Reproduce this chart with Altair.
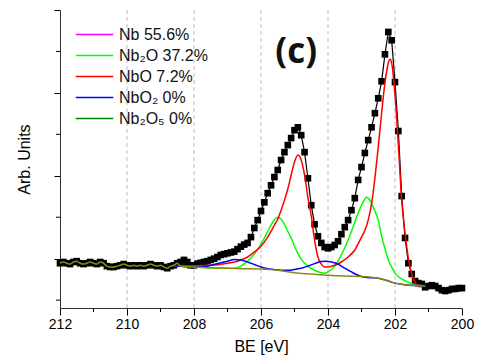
import altair as alt
import pandas as pd

# ---------------- data ----------------
be_grid = [
    212.0, 211.9, 211.8, 211.7, 211.6, 211.5, 211.4, 211.3, 211.2, 211.1,
    211.0, 210.9, 210.8, 210.7, 210.6, 210.5, 210.4, 210.3, 210.2, 210.1,
    210.0, 209.9, 209.8, 209.7, 209.6, 209.5, 209.4, 209.3, 209.2, 209.1,
    209.0, 208.9, 208.8, 208.7, 208.6, 208.5, 208.4, 208.3, 208.2, 208.1,
    208.0, 207.9, 207.8, 207.7, 207.6, 207.5, 207.4, 207.3, 207.2, 207.1,
    207.0, 206.9, 206.8, 206.7, 206.6, 206.5, 206.4, 206.3, 206.2, 206.1,
    206.0, 205.9, 205.8, 205.7, 205.6, 205.5, 205.4, 205.3, 205.2, 205.1,
    205.0, 204.9, 204.8, 204.7, 204.6, 204.5, 204.4, 204.3, 204.2, 204.1,
    204.0, 203.9, 203.8, 203.7, 203.6, 203.5, 203.4, 203.3, 203.2, 203.1,
    203.0, 202.9, 202.8, 202.7, 202.6, 202.5, 202.4, 202.3, 202.2, 202.1,
    202.0, 201.9, 201.8, 201.7, 201.6, 201.5, 201.4, 201.3, 201.2, 201.1,
    201.0, 200.9, 200.8, 200.7, 200.6, 200.5, 200.4, 200.3, 200.2, 200.1,
    200.0,
]
intensity = [
    0.89, 0.92, 0.89, 0.87, 0.92, 0.94, 0.89, 0.87, 0.89, 0.92,
    0.89, 0.87, 0.92, 0.89, 0.82, 0.80, 0.80, 0.82, 0.84, 0.87,
    0.84, 0.82, 0.84, 0.82, 0.84, 0.82, 0.84, 0.87, 0.84, 0.82,
    0.84, 0.80, 0.77, 0.82, 0.84, 0.89, 0.92, 0.97, 0.92, 0.84,
    0.84, 0.88, 0.90, 0.92, 0.94, 0.97, 1.00, 1.04, 1.09, 1.11,
    1.13, 1.15, 1.17, 1.23, 1.29, 1.34, 1.38, 1.52, 1.74, 1.93,
    2.15, 2.36, 2.58, 2.77, 2.97, 3.14, 3.38, 3.57, 3.74, 3.91,
    4.10, 4.17, 3.98, 3.57, 2.94, 2.29, 1.83, 1.54, 1.38, 1.28,
    1.25, 1.28, 1.33, 1.42, 1.59, 1.76, 1.93, 2.17, 2.46, 2.90,
    3.21, 3.55, 3.86, 4.17, 4.51, 4.87, 5.28, 5.93, 6.47, 6.27,
    5.26, 4.08, 2.51, 1.50, 0.89, 0.63, 0.46, 0.41, 0.39, 0.31,
    0.34, 0.36, 0.34, 0.29, 0.24, 0.22, 0.24, 0.27, 0.27, 0.29,
    0.29,
]

red_be = [208.6, 208.5, 208.0, 207.5, 207.0, 206.8, 206.6, 206.4, 206.2, 206.0,
          205.8, 205.6, 205.5, 205.4, 205.3, 205.2, 205.1, 205.0, 204.9, 204.8,
          204.7, 204.6, 204.5, 204.4, 204.3, 204.2, 204.1, 204.0, 203.8, 203.6,
          203.4, 203.2, 203.0, 202.9, 202.8, 202.7, 202.6, 202.5, 202.4, 202.3,
          202.2, 202.15, 202.1, 202.0, 201.9, 201.8, 201.7, 201.6, 201.5, 201.4,
          201.3, 201.2, 201.1]
red_v = [0.83, 0.83, 0.83, 0.84, 0.89, 0.92, 0.97, 1.04, 1.16, 1.30,
         1.52, 1.81, 1.95, 2.17, 2.41, 2.68, 3.02, 3.33, 3.50, 3.38,
         3.02, 2.48, 2.03, 1.45, 1.04, 0.87, 0.80, 0.80, 0.84, 0.92,
         1.04, 1.21, 1.52, 1.68, 1.93, 2.32, 2.94, 3.69, 4.51, 5.24,
         5.72, 5.81, 5.72, 4.95, 3.74, 2.41, 1.62, 1.01, 0.63, 0.43,
         0.36, 0.35, 0.34]

green_be = [208.6, 208.0, 207.5, 207.0, 206.8, 206.6, 206.4, 206.2, 206.0, 205.9,
            205.8, 205.7, 205.6, 205.5, 205.4, 205.3, 205.2, 205.1, 205.0, 204.9,
            204.8, 204.6, 204.4, 204.2, 204.1, 204.0, 203.8, 203.6, 203.4, 203.3,
            203.2, 203.1, 203.0, 202.9, 202.85, 202.8, 202.7, 202.6, 202.5, 202.4,
            202.3, 202.2, 202.1, 202.0, 201.8, 201.6, 201.4, 201.2, 201.1]
green_v = [0.83, 0.80, 0.78, 0.77, 0.77, 0.82, 0.94, 1.11, 1.35, 1.50,
           1.66, 1.81, 1.94, 2.00, 1.95, 1.83, 1.66, 1.50, 1.30, 1.13,
           0.99, 0.82, 0.72, 0.66, 0.65, 0.68, 0.82, 1.09, 1.45, 1.66,
           1.88, 2.10, 2.29, 2.44, 2.48, 2.46, 2.34, 2.15, 1.93, 1.54,
           1.25, 0.97, 0.80, 0.65, 0.51, 0.43, 0.37, 0.35, 0.34]

blue_be = [208.6, 208.0, 207.6, 207.4, 207.2, 207.0, 206.8, 206.6, 206.4, 206.2,
           206.0, 205.8, 205.6, 205.4, 205.2, 205.0, 204.8, 204.6, 204.4, 204.2,
           204.05, 203.9, 203.7, 203.5, 203.3, 203.1, 202.9, 202.7, 202.5, 202.2,
           202.0, 201.7, 201.4, 201.1]
blue_v = [0.83, 0.80, 0.82, 0.86, 0.90, 0.94, 0.98, 0.97, 0.92, 0.86,
          0.80, 0.76, 0.74, 0.72, 0.72, 0.74, 0.77, 0.82, 0.88, 0.93,
          0.94, 0.92, 0.87, 0.77, 0.68, 0.60, 0.55, 0.54, 0.53, 0.46,
          0.41, 0.37, 0.35, 0.34]

bg_be = [208.4, 208.0, 207.5, 207.0, 206.5, 206.0, 205.5, 205.0, 204.5, 204.0,
         203.5, 203.0, 202.5, 202.2, 202.0, 201.7, 201.4, 201.1]
bg_v = [0.82, 0.80, 0.78, 0.77, 0.76, 0.75, 0.72, 0.66, 0.63, 0.60,
        0.58, 0.57, 0.53, 0.46, 0.41, 0.37, 0.35, 0.34]

labels = ["Nb 55.6%", "Nb\u2082O 37.2%", "NbO 7.2%", "NbO\u2082 0%", "Nb\u2082O\u2085 0%"]
colors = ["#ff00ff", "#00ff00", "#ff0000", "#0000ff", "#008000"]

major_x = [212, 210, 208, 206, 204, 202, 200]
minor_x = [211, 209, 207, 205, 203, 201]
grid_x = [210, 208, 206, 204, 202]
major_y = [1, 3, 5, 7]
minor_y = [0, 2, 4, 6]
annot = pd.DataFrame({"be": [204.95], "v": [5.98], "t": ["(c)"]})

# ---------------- frames ----------------
df_data = pd.DataFrame({"be": be_grid, "v": intensity})
rows = []
for name, bes, vs in [(labels[1], green_be, green_v),
                      (labels[2], red_be, red_v),
                      (labels[3], blue_be, blue_v)]:
    for b, v in zip(bes, vs):
        rows.append({"be": b, "v": v, "comp": name})
df_comp = pd.DataFrame(rows)
bg_pairs = [(b, v) for b, v in zip(be_grid, intensity) if b >= 208.45] + list(zip(bg_be, bg_v))
df_bg = pd.DataFrame(bg_pairs, columns=["be", "v"])

W, H = 402, 298
FONT = "Liberation Sans"
xs = alt.Scale(domain=[200, 212], reverse=True, nice=False, zero=False)
ys = alt.Scale(domain=[-0.19, 7.0], nice=False, zero=False)

x_axis = alt.Axis(values=major_x, title="BE [eV]", grid=False, tickSize=7,
                  tickColor="black", domainColor="#333333", labelFontSize=14,
                  labelFont=FONT, labelColor="black", titleFont=FONT,
                  titleFontSize=16, titleFontWeight="normal", titleColor="black",
                  labelPadding=2, titlePadding=7, format="d", labelFlush=False)
y_axis = alt.Axis(values=major_y, title="Arb. Units", labels=False, grid=False,
                  tickSize=6, tickColor="black", domainColor="#333333",
                  titleFont=FONT, titleFontSize=16, titleFontWeight="normal",
                  titleColor="black", titlePadding=21)

grid = alt.Chart(pd.DataFrame({"be": grid_x})).mark_rule(
    color="#bdbdbd", strokeDash=[4, 3], strokeWidth=1
).encode(x=alt.X("be:Q", scale=xs, axis=x_axis), y=alt.value(0), y2=alt.value(H))

data_line = alt.Chart(df_data).mark_line(color="black", strokeWidth=1.2).encode(
    x=alt.X("be:Q", scale=xs), y=alt.Y("v:Q", scale=ys, axis=y_axis))
data_pts = alt.Chart(df_data).mark_square(color="black", size=44, opacity=1).encode(
    x=alt.X("be:Q", scale=xs), y=alt.Y("v:Q", scale=ys))

comps = alt.Chart(df_comp).mark_line(strokeWidth=1.5, interpolate="monotone").encode(
    x=alt.X("be:Q", scale=xs), y=alt.Y("v:Q", scale=ys),
    color=alt.Color("comp:N", scale=alt.Scale(domain=labels, range=colors),
                    legend=alt.Legend(title=None, orient="none", legendX=26, legendY=16,
                                      symbolType="M-2.5,0H2.5", symbolSize=225,
                                      symbolStrokeWidth=1.5, symbolFillColor="transparent",
                                      labelFontSize=16, labelFont=FONT,
                                      labelColor="#111111", rowPadding=4,
                                      labelOffset=16, padding=0)))

bg_line = alt.Chart(df_bg).mark_line(color="#8a8a10", strokeWidth=1.5, interpolate="monotone").encode(
    x=alt.X("be:Q", scale=xs), y=alt.Y("v:Q", scale=ys))

minor_xt = alt.Chart(pd.DataFrame({"be": minor_x})).mark_rule(color="black").encode(
    x=alt.X("be:Q", scale=xs), y=alt.value(H), y2=alt.value(H + 4))
minor_yt = alt.Chart(pd.DataFrame({"v": minor_y})).mark_rule(color="black").encode(
    y=alt.Y("v:Q", scale=ys), x=alt.value(-4), x2=alt.value(0))

label_c = alt.Chart(annot).mark_text(font="Open Sans", fontSize=35, fontWeight="bold",
                                     align="center", baseline="middle", color="#111111").encode(
    x=alt.X("be:Q", scale=xs), y=alt.Y("v:Q", scale=ys), text="t:N")

chart = alt.layer(grid, data_line, data_pts, comps, bg_line, minor_xt, minor_yt, label_c).properties(
    width=W, height=H, autosize="none",
    padding={"left": 60, "top": 10, "right": 15, "bottom": 48},
    background="white",
).configure_view(stroke=None)

chart.save("out.html", embed_options={"renderer": "svg", "actions": False})
